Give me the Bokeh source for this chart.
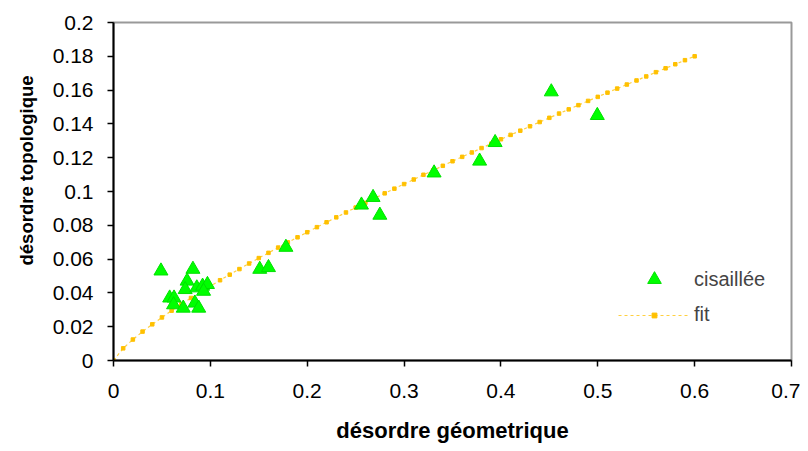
from bokeh.plotting import figure
from bokeh.models import FixedTicker, Range1d, Legend, LegendItem, Title
from bokeh.embed import file_html
from bokeh.resources import INLINE

# --- data ---
shear_x = [0.049, 0.082, 0.076, 0.074, 0.058, 0.0625, 0.062, 0.072, 0.086, 0.092,
           0.097, 0.093, 0.084, 0.088, 0.151, 0.160, 0.178, 0.256, 0.268, 0.275,
           0.331, 0.378, 0.394, 0.452, 0.4995]
shear_y = [0.053, 0.054, 0.047, 0.042, 0.037, 0.037, 0.033, 0.031, 0.043, 0.044,
           0.045, 0.041, 0.034, 0.031, 0.054, 0.055, 0.067, 0.092, 0.0965, 0.086,
           0.111, 0.118, 0.129, 0.159, 0.145]

fit_x = [i / 100 for i in range(61)]
fit_y = [0.0, 0.0072, 0.0124, 0.0171, 0.0214, 0.0255, 0.0295, 0.0333, 0.0370, 0.0405,
         0.0440, 0.0475, 0.0508, 0.0541, 0.0574, 0.0606, 0.0637, 0.0668, 0.0699, 0.0729,
         0.0759, 0.0789, 0.0818, 0.0847, 0.0876, 0.0905, 0.0933, 0.0961, 0.0989, 0.1017,
         0.1044, 0.1071, 0.1099, 0.1125, 0.1152, 0.1179, 0.1205, 0.1231, 0.1257, 0.1283,
         0.1309, 0.1335, 0.1360, 0.1386, 0.1411, 0.1436, 0.1461, 0.1486, 0.1511, 0.1536,
         0.1560, 0.1585, 0.1609, 0.1633, 0.1657, 0.1681, 0.1706, 0.1729, 0.1753, 0.1777,
         0.1800]

x_ticks = [0, 0.1, 0.2, 0.3, 0.4, 0.5, 0.6, 0.7]
x_tick_labels = ["0", "0.1", "0.2", "0.3", "0.4", "0.5", "0.6", "0.7"]
y_ticks = [0, 0.02, 0.04, 0.06, 0.08, 0.1, 0.12, 0.14, 0.16, 0.18, 0.2]
y_tick_labels = ["0", "0.02", "0.04", "0.06", "0.08", "0.1", "0.12", "0.14", "0.16", "0.18", "0.2"]

FONT = "Liberation Sans"

p = figure(width=800, height=451, output_backend="svg", toolbar_location=None,
           x_range=Range1d(0, 0.7), y_range=Range1d(0, 0.2),
           min_border_left=113, min_border_right=9, min_border_top=22, min_border_bottom=91)
p.background_fill_color = "white"
p.border_fill_color = "white"
p.grid.visible = False
p.outline_line_color = "#999999"
p.outline_line_width = 2

fit_line = p.line(fit_x, fit_y, line_color="#FFD040", line_width=1.2, line_dash="3 3")
fit_pts = p.scatter(fit_x, fit_y, marker="square", size=3.5, fill_color="#FFC000",
                    line_color="#FFC000")
tri = p.scatter(shear_x, shear_y, marker="triangle", size=14, fill_color="#00FF00",
                line_color="#00E000", line_width=1)

for ax, ticks, labels in ((p.xaxis[0], x_ticks, x_tick_labels), (p.yaxis[0], y_ticks, y_tick_labels)):
    ax.ticker = FixedTicker(ticks=ticks)
    ax.major_label_overrides = {t: l for t, l in zip(ticks, labels)}
    ax.minor_tick_line_color = None
    ax.major_tick_in = 0
    ax.major_tick_out = 6
    ax.axis_line_color = "black"
    ax.axis_line_width = 2
    ax.major_tick_line_color = "black"
    ax.major_tick_line_width = 1.5
    ax.major_label_text_font = FONT
    ax.major_label_text_font_size = "21px"
    ax.major_label_text_color = "black"
    ax.axis_label_text_font = FONT
    ax.axis_label_text_font_style = "bold"
    ax.axis_label_text_color = "black"

p.xaxis.axis_label = "désordre géometrique"
p.xaxis.axis_label_text_font_size = "22px"
p.xaxis.major_label_standoff = 17
p.yaxis.major_label_standoff = 14
p.xaxis.axis_label_standoff = 17

ytitle = Title(text="désordre topologique", align="left", offset=95,
               text_font=FONT, text_font_size="18.5px", text_font_style="bold",
               text_color="black", standoff=26)
p.add_layout(ytitle, "left")

leg_tri = Legend(items=[LegendItem(label="cisaillée", renderers=[tri])],
                 location=(505, 64))
leg_fit = Legend(items=[LegendItem(label="fit", renderers=[fit_line, fit_pts])],
                 location=(505, 34))
for lg, gh in ((leg_tri, 34), (leg_fit, 12)):
    lg.border_line_color = None
    lg.background_fill_alpha = 0
    lg.padding = 0
    lg.margin = 0
    lg.spacing = 0
    lg.glyph_width = 72
    lg.glyph_height = gh
    lg.label_height = gh
    lg.label_standoff = 4
    lg.label_text_font = FONT
    lg.label_text_font_size = "20px"
    p.add_layout(lg)

open("out.html", "w").write(file_html(p, INLINE))
